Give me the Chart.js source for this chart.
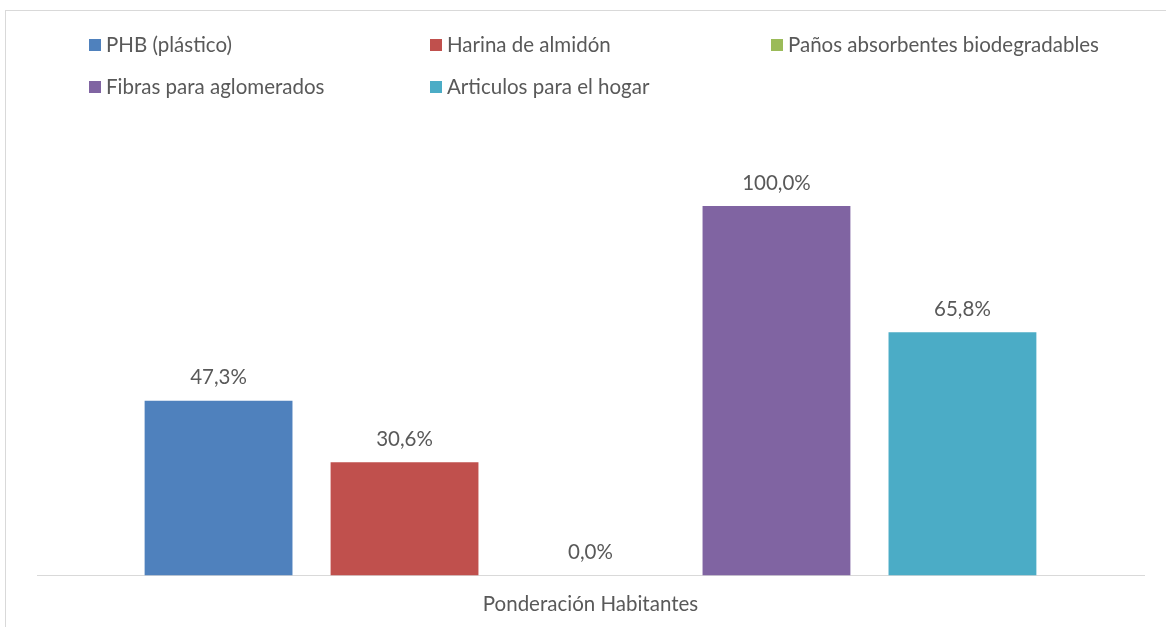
<!DOCTYPE html>
<html>
<head>
<meta charset="utf-8">
<script src="https://cdn.jsdelivr.net/npm/chart.js@4"></script>
<style>
  body { margin: 0; background: #fff; overflow: hidden; }
  #frame { position: absolute; left: 5px; top: 10px; width: 1200px; height: 700px; border: 1px solid #d9d9d9; }
  #wrap { position: absolute; left: 0; top: 0; width: 1166px; height: 627px; }
</style>
</head>
<body>
<div id="frame"></div>
<div id="wrap"><canvas id="myChart"></canvas></div>
<script>
// data
const categories = ['Ponderación Habitantes'];
const seriesNames = ['PHB (plástico)', 'Harina de almidón', 'Paños absorbentes biodegradables', 'Fibras para aglomerados', 'Articulos para el hogar'];
const seriesValues = [47.3, 30.6, 0.0, 100.0, 65.8];
const seriesColors = ['#4F81BD', '#C0504D', '#9BBB59', '#8064A2', '#4BACC6'];

const fontFamily = 'Lato, "Open Sans", sans-serif';
const textColor = '#595959';

function fmtPct(v) {
  return v.toFixed(1).replace('.', ',') + '%';
}

// legend drawn as a 3 column grid like the excel one
const gridLegend = {
  id: 'gridLegend',
  afterDraw(chart) {
    const ctx = chart.ctx;
    ctx.save();
    ctx.font = '20.5px ' + fontFamily;
    ctx.textBaseline = 'middle';
    chart.data.datasets.forEach((ds, i) => {
      let col = i % 3, row = Math.floor(i / 3);
      let x = 89 + col * 341, y = 45 + row * 42;
      ctx.fillStyle = ds.backgroundColor;
      ctx.fillRect(x, y - 6, 12, 12);
      ctx.fillStyle = textColor;
      ctx.fillText(ds.label, x + 17, y);
    });
    ctx.restore();
  }
};

// value labels over the bars
const barLabels = {
  id: 'barLabels',
  afterDatasetsDraw(chart) {
    const ctx = chart.ctx;
    ctx.save();
    ctx.font = '20.5px ' + fontFamily;
    ctx.fillStyle = textColor;
    ctx.textAlign = 'center';
    ctx.textBaseline = 'middle';
    chart.data.datasets.forEach((ds, i) => {
      chart.getDatasetMeta(i).data.forEach((bar, j) => {
        ctx.fillText(fmtPct(ds.data[j]), bar.x, bar.y - 23);
      });
    });
    ctx.restore();
  }
};

const ctx = document.getElementById('myChart').getContext('2d');
const myChart = new Chart(ctx, {
  type: 'bar',
  data: {
    labels: categories,
    datasets: seriesNames.map((name, i) => ({
      label: name,
      data: [seriesValues[i]],
      backgroundColor: seriesColors[i],
      borderWidth: 0,
      categoryPercentage: 0.84,
      barPercentage: 0.795
    }))
  },
  options: {
    responsive: true,
    maintainAspectRatio: false,
    animation: false,
    layout: { padding: { left: 37, right: 22, top: 132, bottom: -7 } },
    plugins: {
      legend: { display: false },
      tooltip: { enabled: false }
    },
    scales: {
      y: { display: false, min: 0, max: 120 },
      x: {
        grid: { display: false, drawTicks: false },
        border: { color: '#d9d9d9', width: 1 },
        ticks: { color: textColor, font: { family: fontFamily, size: 20.5 }, padding: 17 }
      }
    }
  },
  plugins: [gridLegend, barLabels]
});
</script>
</body>
</html>
